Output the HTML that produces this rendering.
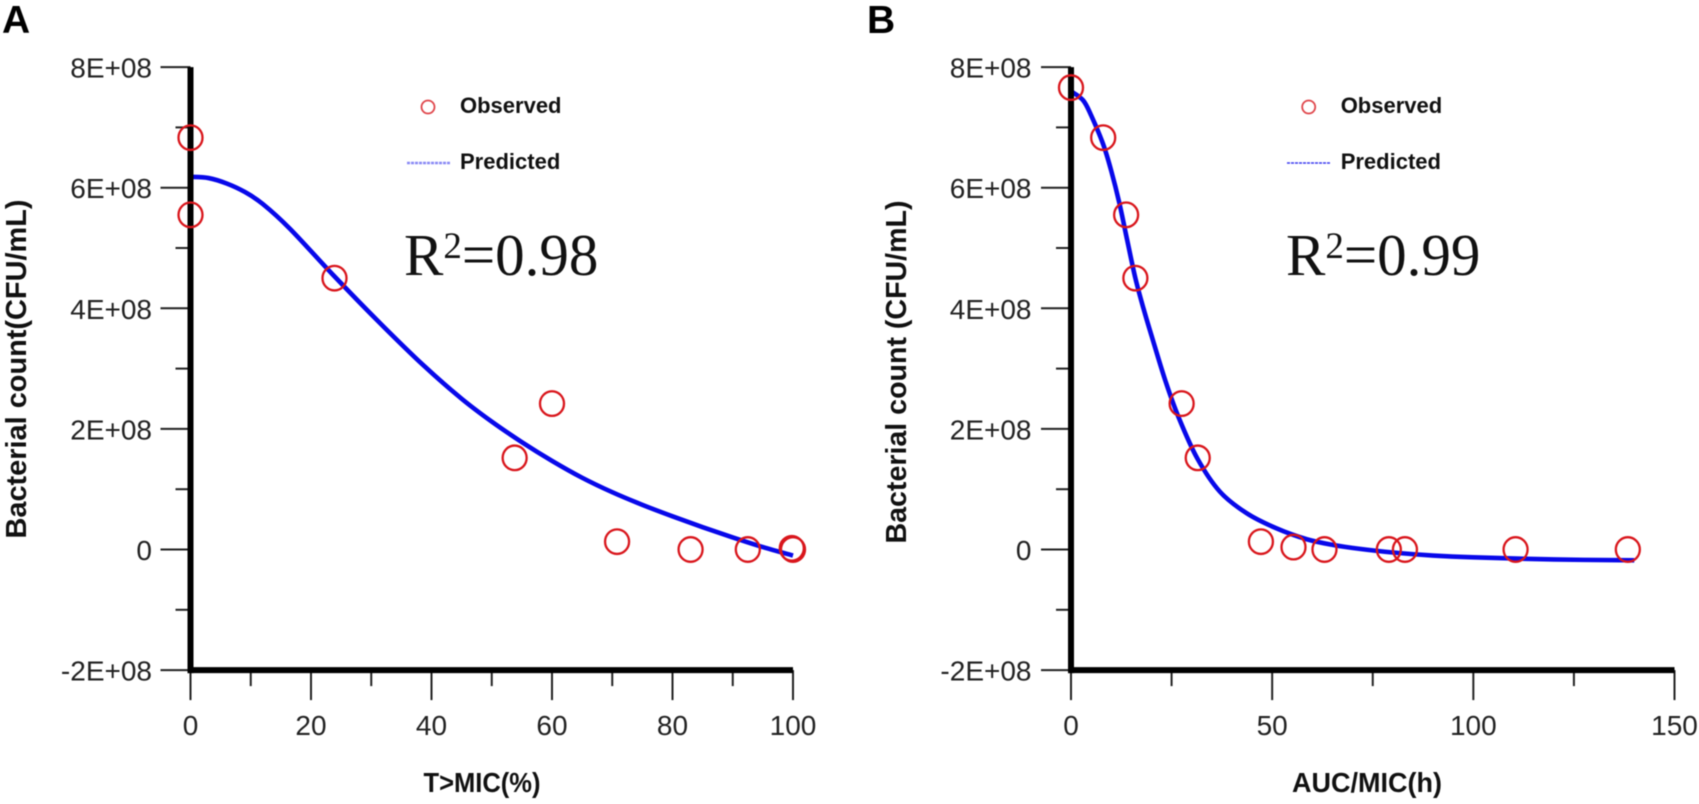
<!DOCTYPE html>
<html lang="en">
<head>
<meta charset="utf-8">
<title>Bacterial count versus PK/PD index</title>
<style>
html,body{margin:0;padding:0;background:#fff;}
svg{display:block;filter:blur(0.45px);}
text{font-family:"Liberation Sans",sans-serif;}
.tick{font-size:28px;fill:#222;}
.title{font-size:29px;font-weight:bold;fill:#111;}
.xtitle{font-size:28px;font-weight:bold;fill:#111;}
.legend{font-size:22px;font-weight:bold;fill:#111;}
.panel{font-size:39px;font-weight:bold;fill:#000;}
.r2{font-family:"Liberation Serif",serif;font-size:59px;fill:#111;}
</style>
</head>
<body>
<svg id="fig" xmlns="http://www.w3.org/2000/svg" width="1699" height="804" viewBox="0 0 1699 804">
  <rect x="0" y="0" width="1699" height="804" fill="#fff"/>

  <text class="panel" x="2" y="33">A</text>
  <text class="panel" x="867" y="33">B</text>

  <text class="title" transform="translate(26,369) rotate(-90)" text-anchor="middle" textLength="339" lengthAdjust="spacingAndGlyphs">Bacterial count(CFU/mL)</text>
  <text class="title" transform="translate(906,372) rotate(-90)" text-anchor="middle" textLength="343" lengthAdjust="spacingAndGlyphs">Bacterial count (CFU/mL)</text>
  <text class="xtitle" x="482" y="792" text-anchor="middle" textLength="117" lengthAdjust="spacingAndGlyphs">T&gt;MIC(%)</text>
  <text class="xtitle" x="1367" y="792" text-anchor="middle" textLength="150" lengthAdjust="spacingAndGlyphs">AUC/MIC(h)</text>

  <g>
    <circle cx="428" cy="107" r="6.5" fill="none" stroke="#e0474c" stroke-width="1.8"/>
    <text class="legend" x="460" y="113">Observed</text>
    <line x1="407" y1="163" x2="450" y2="163" stroke="#8a8af5" stroke-width="2.6" stroke-dasharray="3 1"/>
    <text class="legend" x="460" y="169">Predicted</text>
  </g>
  <g>
    <circle cx="1308.7" cy="107" r="6.5" fill="none" stroke="#e0474c" stroke-width="1.8"/>
    <text class="legend" x="1340.7" y="113">Observed</text>
    <line x1="1287" y1="163" x2="1331" y2="163" stroke="#3a3af0" stroke-width="1.6" stroke-dasharray="3 1"/>
    <text class="legend" x="1340.7" y="169">Predicted</text>
  </g>

  <text class="r2" x="404" y="275">R<tspan font-size="37" dy="-17">2</tspan><tspan dy="17">=0.98</tspan></text>
  <text class="r2" x="1286" y="275">R<tspan font-size="37" dy="-17">2</tspan><tspan dy="17">=0.99</tspan></text>
</svg>
<script>
// Shared y axis values (bacterial count, units of 1E+08)
const yMajorTicks = [8, 6, 4, 2, 0, -2];
const yMajorLabels = ['8E+08', '6E+08', '4E+08', '2E+08', '0', '-2E+08'];
const yMinorTicks = [7, 5, 3, 1, -1];

// Panel A: T>MIC(%)
const xTicksA = [0, 20, 40, 60, 80, 100];
const xMinorA = [10, 30, 50, 70, 90];
const obsXA = [0, 0, 23.9, 53.8, 60, 70.8, 83, 92.5, 99.8, 100];
const obsYA = [6.83, 5.55, 4.5, 1.52, 2.42, 0.13, 0, 0, 0.02, 0];
const curveXA = [0, 3, 6, 9, 12, 16.5, 23.7, 30.9, 38.6, 45, 50, 55, 60, 65, 70, 75, 80, 85, 90, 95, 100];
const curveYA = [6.18, 6.16, 6.07, 5.93, 5.73, 5.32, 4.55, 3.81, 3.06, 2.5, 2.12, 1.78, 1.47, 1.19, 0.95, 0.74, 0.55, 0.37, 0.2, 0.04, -0.1];

// Panel B: AUC/MIC(h)
const xTicksB = [0, 50, 100, 150];
const xMinorB = [25, 75, 125];
const obsXB = [0, 8, 13.7, 16, 27.5, 31.5, 47.2, 55.3, 63, 79, 83, 110.5, 138.4];
const obsYB = [7.66, 6.83, 5.55, 4.5, 2.42, 1.52, 0.13, 0.04, 0, 0, 0, 0, 0];
const curveXB = [0, 3, 5, 8, 10, 12, 14, 16, 18, 20, 23.4, 26.7, 31.4, 37, 43.7, 51.1, 58.6, 65.2, 71.8, 80, 90, 100, 120, 140];
const curveYB = [7.6, 7.45, 7.2, 6.72, 6.28, 5.75, 5.12, 4.5, 4.0, 3.55, 2.81, 2.2, 1.51, 0.96, 0.6, 0.35, 0.17, 0.075, 0.01, -0.05, -0.1, -0.13, -0.165, -0.18];

const svg = document.getElementById('fig');
const NS = 'http://www.w3.org/2000/svg';

function yScale(v) {
  return 549.5 - v * 60.3;
}

function make(tag, parent, attrs) {
  const el = document.createElementNS(NS, tag);
  for (const k in attrs) el.setAttribute(k, attrs[k]);
  parent.appendChild(el);
  return el;
}

function smoothPath(xs, ys, xScale) {
  const p = xs.map((x, i) => [xScale(x), yScale(ys[i])]);
  let d = 'M' + p[0][0] + ' ' + p[0][1];
  for (let i = 0; i < p.length - 1; i++) {
    const a = p[Math.max(0, i - 1)], b = p[i], c = p[i + 1], e = p[Math.min(p.length - 1, i + 2)];
    const c1x = b[0] + (c[0] - a[0]) / 6, c1y = b[1] + (c[1] - a[1]) / 6;
    const c2x = c[0] - (e[0] - b[0]) / 6, c2y = c[1] - (e[1] - b[1]) / 6;
    d += 'C' + c1x + ' ' + c1y + ' ' + c2x + ' ' + c2y + ' ' + c[0] + ' ' + c[1];
  }
  return d;
}

function drawPanel(id, xMax, x0, x1, labelEnd, xTicks, xMinor, obsX, obsY, curveX, curveY) {
  const xScale = v => x0 + (v / xMax) * (x1 - x0);
  const top = yScale(8), bottom = yScale(-2);

  const g = make('g', svg, {});
  
  

  yMajorTicks.forEach((v, i) => {
    const t = make('line', g, {x1: x0 - 30, x2: x0, y1: yScale(v), y2: yScale(v), stroke: '#222', 'stroke-width': 2});
    
    
    const l = make('text', g, {x: labelEnd, y: yScale(v) + 10.5, 'text-anchor': 'end', class: 'tick'});
    l.textContent = yMajorLabels[i];
    
    
  });
  yMinorTicks.forEach(v => {
    const t = make('line', g, {x1: x0 - 15, x2: x0, y1: yScale(v), y2: yScale(v), stroke: '#222', 'stroke-width': 2});
    
    
  });
  xTicks.forEach(v => {
    const t = make('line', g, {x1: xScale(v), x2: xScale(v), y1: bottom, y2: bottom + 30, stroke: '#222', 'stroke-width': 2});
    
    
    const l = make('text', g, {x: xScale(v), y: 735, 'text-anchor': 'middle', class: 'tick'});
    l.textContent = String(v);
    
    
  });
  xMinor.forEach(v => {
    const t = make('line', g, {x1: xScale(v), x2: xScale(v), y1: bottom, y2: bottom + 16, stroke: '#222', 'stroke-width': 2});
    
    
  });

  const curve = make('path', g, {d: smoothPath(curveX, curveY, xScale), fill: 'none', stroke: '#0808ea', 'stroke-width': 4.6, 'stroke-linejoin': 'round'});
  
  

  const yAxis = make('line', g, {x1: x0, x2: x0, y1: top, y2: bottom + 3, stroke: '#000', 'stroke-width': 6});
  
  
  const xAxis = make('line', g, {x1: x0 - 3, x2: x1, y1: bottom, y2: bottom, stroke: '#000', 'stroke-width': 6});
  
  

  obsX.forEach((x, i) => {
    const c = make('ellipse', g, {cx: xScale(x), cy: yScale(obsY[i]), rx: 12, ry: 12.3, fill: 'none', stroke: '#d9161c', 'stroke-width': 2.3});
    
    
  });
}

drawPanel('a', 100, 190.5, 793, 152, xTicksA, xMinorA, obsXA, obsYA, curveXA, curveYA);
drawPanel('b', 150, 1071, 1674.5, 1031.5, xTicksB, xMinorB, obsXB, obsYB, curveXB, curveYB);
</script>
</body>
</html>
